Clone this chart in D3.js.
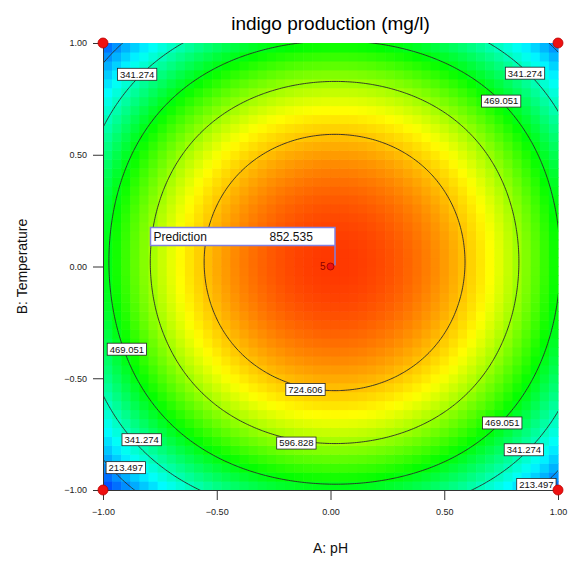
<!DOCTYPE html>
<html>
<head>
<meta charset="utf-8">
<script src="https://cdn.jsdelivr.net/npm/d3@7"></script>
<style>
  body { margin: 0; background: #fff; }
  text { font-family: "Liberation Sans", Arial, sans-serif; }
</style>
</head>
<body>
<div id="chart"></div>
<script>
// chart size
let svgWidth = 570,
  svgHeight = 587;

// plot area in pixels
let plot = { left: 103, right: 558, top: 43, bottom: 490 };

// fitted model: Y = b0 + bA*A + bB*B + bAA*A^2 + bBB*B^2 + bAABB*A^2*B^2
let coefTerms = ["b0", "A", "B", "A2", "B2", "A2B2"];
let coefValues = [852.535, 14, 14, -390, -390, 90];

// contour levels drawn on the plot
let contourLevels = [213.497, 341.274, 469.051, 596.828, 724.606];

// contour label texts and where they sit (coded A, B)
let labelTexts = ["341.274", "341.274", "469.051", "469.051", "724.606", "596.828",
  "469.051", "341.274", "213.497", "341.274", "213.497"];
let labelA = [-0.85, 0.855, 0.75, -0.895, -0.11, -0.15, 0.755, 0.85, 0.905, -0.83, -0.9];
let labelB = [0.86, 0.865, 0.74, -0.37, -0.55, -0.79, -0.7, -0.82, -0.975, -0.775, -0.9];

// design points
let designA = [-1, 1, -1, 1];
let designB = [1, 1, -1, -1];
let centerPoint = [0, 0];
let centerReps = "5";
let predictionValue = "852.535";

// axis ticks
let tickValues = [-1, -0.5, 0, 0.5, 1];

// colour ramp limits for the grid
let colorLow = 100,
  colorHigh = 860;
let colorStops = ["#0000ff", "#00ffff", "#00ff00", "#ffff00", "#ff3000"];

function model(a, b) {
  let c = coefValues;
  return c[0] + c[1] * a + c[2] * b + c[3] * a * a + c[4] * b * b + c[5] * a * a * b * b;
}

let svg = d3
  .select("#chart")
  .append("svg")
  .attr("width", svgWidth)
  .attr("height", svgHeight);

svg.append("rect").attr("width", svgWidth).attr("height", svgHeight).attr("fill", "#fff");

let xScale = d3.scaleLinear().domain([-1, 1]).range([plot.left, plot.right]);
let yScale = d3.scaleLinear().domain([-1, 1]).range([plot.bottom, plot.top]);

let colorScale = d3
  .scaleLinear()
  .domain(d3.range(colorStops.length).map((i) => colorLow + (i * (colorHigh - colorLow)) / (colorStops.length - 1)))
  .range(colorStops)
  .clamp(true);

// colour grid cells
let nCells = 50;
let cells = [];
for (let i = 0; i < nCells; i++) {
  for (let j = 0; j < nCells; j++) {
    let a0 = -1 + (2 * i) / nCells,
      b0 = -1 + (2 * j) / nCells;
    let a1 = a0 + 2 / nCells,
      b1 = b0 + 2 / nCells;
    cells.push({ a0, a1, b0, b1, v: model((a0 + a1) / 2, (b0 + b1) / 2) });
  }
}

let plotGroup = svg.append("g");

plotGroup
  .selectAll(".cell")
  .data(cells)
  .enter()
  .append("rect")
  .attr("x", (d) => xScale(d.a0))
  .attr("y", (d) => yScale(d.b1))
  .attr("width", (d) => xScale(d.a1) - xScale(d.a0) + 0.6)
  .attr("height", (d) => yScale(d.b0) - yScale(d.b1) + 0.6)
  .attr("fill", (d) => colorScale(d.v));

// contour lines from a finer grid that runs past the plot edge, clipped
svg
  .append("clipPath")
  .attr("id", "plotClip")
  .append("rect")
  .attr("x", plot.left)
  .attr("y", plot.top)
  .attr("width", plot.right - plot.left)
  .attr("height", plot.bottom - plot.top);

let n = 260,
  g0 = -1.3,
  step = 2.6 / n;
let values = new Array(n * n);
for (let j = 0; j < n; j++) {
  for (let i = 0; i < n; i++) {
    values[i + j * n] = model(g0 + (i + 0.5) * step, g0 + (j + 0.5) * step);
  }
}
let contours = d3.contours().size([n, n]).thresholds(contourLevels)(values);

let contourPath = d3.geoPath(
  d3.geoTransform({
    point: function (x, y) {
      this.stream.point(xScale(g0 + x * step), yScale(g0 + y * step));
    },
  })
);

svg
  .append("g")
  .attr("clip-path", "url(#plotClip)")
  .selectAll("path")
  .data(contours)
  .enter()
  .append("path")
  .attr("d", contourPath)
  .attr("fill", "none")
  .attr("stroke", "#2a2a2a")
  .attr("stroke-width", 0.9);

// axes
let leftAxis = d3.axisLeft(yScale).tickValues(tickValues).tickFormat(d3.format(".2f")).tickSize(10).tickSizeOuter(0).tickPadding(6);
let bottomAxis = d3.axisBottom(xScale).tickValues(tickValues).tickFormat(d3.format(".2f")).tickSize(10).tickSizeOuter(0).tickPadding(9);

let leftAxisGroup = svg.append("g").attr("transform", `translate(${plot.left}, 0)`).call(leftAxis);
let bottomAxisGroup = svg.append("g").attr("transform", `translate(0, ${plot.bottom})`).call(bottomAxis);

[leftAxisGroup, bottomAxisGroup].forEach((g) => {
  g.selectAll("path, line").attr("stroke", "#333");
  g.selectAll("text").attr("font-size", "9px").attr("fill", "#222").attr("font-family", '"Liberation Sans", Arial, sans-serif');
});

// contour labels
let labelGroup = svg.append("g");
labelTexts.forEach((t, i) => {
  let g = labelGroup.append("g").attr("transform", `translate(${xScale(labelA[i])}, ${yScale(labelB[i])})`);
  let box = g.append("rect");
  let txt = g
    .append("text")
    .text(t)
    .attr("font-size", "9.5px")
    .attr("text-anchor", "middle")
    .attr("dy", "0.35em")
    .attr("fill", "#111");
  let w = txt.node().getComputedTextLength() + 5;
  box
    .attr("x", -w / 2)
    .attr("y", -6)
    .attr("width", w)
    .attr("height", 12)
    .attr("fill", "#fff")
    .attr("stroke", "#222")
    .attr("stroke-width", 0.8);
});

// design points in the corners
svg
  .selectAll(".designPoint")
  .data(designA)
  .enter()
  .append("circle")
  .attr("cx", (d) => xScale(d))
  .attr("cy", (d, i) => yScale(designB[i]))
  .attr("r", 5)
  .attr("fill", "#ee1111")
  .attr("stroke", "#b00")
  .attr("stroke-width", 0.8);

// prediction flag at the centre point
let cx = xScale(centerPoint[0]),
  cy = yScale(centerPoint[1]);

svg
  .append("line")
  .attr("x1", cx + 4.5)
  .attr("y1", cy - 21)
  .attr("x2", cx + 4.5)
  .attr("y2", cy - 1)
  .attr("stroke", "#8080e0")
  .attr("stroke-width", 1.5);

svg
  .append("rect")
  .attr("x", cx - 180)
  .attr("y", cy - 39)
  .attr("width", 184.5)
  .attr("height", 18)
  .attr("fill", "#fff")
  .attr("stroke", "#8080e0")
  .attr("stroke-width", 1.5);

svg
  .append("text")
  .attr("x", cx - 177)
  .attr("y", cy - 25.5)
  .attr("font-size", "12px")
  .attr("fill", "#111")
  .text("Prediction");

svg
  .append("text")
  .attr("x", cx - 61)
  .attr("y", cy - 25.5)
  .attr("font-size", "12px")
  .attr("fill", "#111")
  .text(predictionValue);

svg
  .append("circle")
  .attr("cx", cx)
  .attr("cy", cy)
  .attr("r", 3.5)
  .attr("fill", "#ee1111")
  .attr("stroke", "#900")
  .attr("stroke-width", 0.8);

svg
  .append("text")
  .attr("x", cx - 5)
  .attr("y", cy + 3.5)
  .attr("text-anchor", "end")
  .attr("font-size", "10px")
  .attr("fill", "#8b0000")
  .text(centerReps);

// titles
svg
  .append("text")
  .attr("x", (plot.left + plot.right) / 2)
  .attr("y", 30)
  .attr("text-anchor", "middle")
  .attr("font-size", "19px")
  .attr("fill", "#000")
  .text("indigo production (mg/l)");

svg
  .append("text")
  .attr("x", (plot.left + plot.right) / 2)
  .attr("y", 553)
  .attr("text-anchor", "middle")
  .attr("font-size", "14px")
  .attr("fill", "#111")
  .text("A: pH");

svg
  .append("text")
  .attr("transform", `translate(27, ${(plot.top + plot.bottom) / 2}) rotate(-90)`)
  .attr("text-anchor", "middle")
  .attr("font-size", "14px")
  .attr("fill", "#111")
  .text("B: Temperature");
</script>
</body>
</html>
